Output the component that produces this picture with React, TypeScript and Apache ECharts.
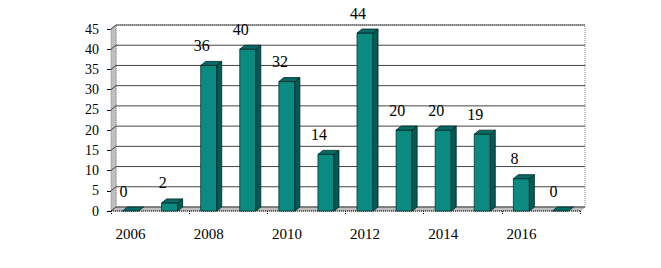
import React, { useEffect, useRef } from "react";
import * as echarts from "echarts";

const years = ["2006", "2007", "2008", "2009", "2010", "2011", "2012", "2013", "2014", "2015", "2016", "2017"];
const counts = [0, 2, 36, 40, 32, 14, 44, 20, 20, 19, 8, 0];
const yTicks = [0, 5, 10, 15, 20, 25, 30, 35, 40, 45];

const WALL_DX = 5;
const WALL_DY = 4;
const BAR_DX = 5;
const BAR_DY = 4;
const FONT = "serif";

export default function App() {
  const ref = useRef<HTMLDivElement>(null);
  useEffect(() => {
    if (!ref.current) return;
    const chart = echarts.init(ref.current, null, { renderer: "svg" });
    const option: any = {
      animation: false,
      backgroundColor: "#ffffff",
      textStyle: { fontFamily: FONT },
      grid: { left: 111, right: 81, top: 29, bottom: 57 },
      xAxis: {
        type: "category",
        data: years,
        axisLine: { show: false },
        axisTick: { show: true, length: 3, lineStyle: { color: "#000", type: "dotted" } },
        axisLabel: { interval: 1, margin: 15, fontFamily: FONT, fontSize: 15, color: "#000" },
        splitLine: { show: false },
      },
      yAxis: {
        type: "value",
        min: 0,
        max: 45,
        interval: 5,
        axisLine: { show: true, lineStyle: { color: "#000", type: "dotted" } },
        axisTick: { show: true, length: 4, lineStyle: { color: "#000" } },
        axisLabel: { margin: 12, fontFamily: FONT, fontSize: 14, color: "#000" },
        splitLine: { show: false },
      },
      series: [
        {
          type: "custom",
          z: 1,
          silent: true,
          data: [0],
          renderItem: (params: any, api: any) => {
            const cs = params.coordSys;
            const x = cs.x, y = cs.y, w = cs.width, h = cs.height;
            const children: any[] = [];
            children.push({
              type: "rect",
              shape: { x: x + WALL_DX, y: y - WALL_DY, width: w, height: h },
              style: { fill: "#ffffff", stroke: "#808080", lineWidth: 1, lineDash: [1, 1] },
            });
            children.push({
              type: "polygon",
              shape: { points: [[x, y], [x + WALL_DX, y - WALL_DY], [x + WALL_DX, y + h - WALL_DY], [x, y + h]] },
              style: { fill: "#c0c0c0", stroke: "#808080", lineWidth: 0.5 },
            });
            children.push({
              type: "polygon",
              shape: { points: [[x, y + h], [x + WALL_DX, y + h - WALL_DY], [x + w + WALL_DX, y + h - WALL_DY], [x + w, y + h]] },
              style: { fill: "#c0c0c0", stroke: "#808080", lineWidth: 0.5 },
            });
            yTicks.forEach((v) => {
              const yy = api.coord([0, v])[1];
              children.push({
                type: "polyline",
                shape: { points: [[x, yy], [x + WALL_DX, yy - WALL_DY], [x + w + WALL_DX, yy - WALL_DY]] },
                style: { stroke: "#444444", lineWidth: 1, fill: null },
              });
            });
            children.push({
              type: "line",
              shape: { x1: x, y1: y + h, x2: x + w, y2: y + h },
              style: { stroke: "#000", lineWidth: 1, lineDash: [1, 1] },
            });
            return { type: "group", children };
          },
        },
        {
          type: "custom",
          z: 2,
          data: counts.map((v, i) => [i, v]),
          encode: { x: 0, y: 1 },
          renderItem: (params: any, api: any) => {
            const i = api.value(0);
            const v = api.value(1);
            const top = api.coord([i, v]);
            const base = api.coord([i, 0]);
            const bw = api.size([1, 0])[0] * 0.41;
            const x0 = top[0] - bw / 2;
            const x1 = top[0] + bw / 2;
            const yt = top[1];
            const yb = base[1];
            const children: any[] = [];
            if (yb - yt > 0.5) {
              children.push({
                type: "rect",
                shape: { x: x0, y: yt, width: bw, height: yb - yt },
                style: { fill: "#0a8a80", stroke: "#003333", lineWidth: 0.8 },
              });
              children.push({
                type: "polygon",
                shape: { points: [[x1, yt], [x1 + BAR_DX, yt - BAR_DY], [x1 + BAR_DX, yb - BAR_DY], [x1, yb]] },
                style: { fill: "#035a55", stroke: "#002626", lineWidth: 0.8 },
              });
            }
            children.push({
              type: "polygon",
              shape: { points: [[x0, yt], [x0 + BAR_DX, yt - BAR_DY], [x1 + BAR_DX, yt - BAR_DY], [x1, yt]] },
              style: { fill: "#076a64", stroke: "#002626", lineWidth: 0.8 },
            });
            children.push({
              type: "text",
              x: top[0] - 7,
              y: yt - 12,
              style: {
                text: String(v),
                font: "16px serif",
                fill: "#000",
                align: "center",
                verticalAlign: "bottom",
              },
            });
            return { type: "group", children };
          },
        },
      ],
    };
    chart.setOption(option);
    return () => chart.dispose();
  }, []);
  return <div ref={ref} style={{ position: "absolute", left: 0, top: 0, width: 661, height: 268 }} />;
}
